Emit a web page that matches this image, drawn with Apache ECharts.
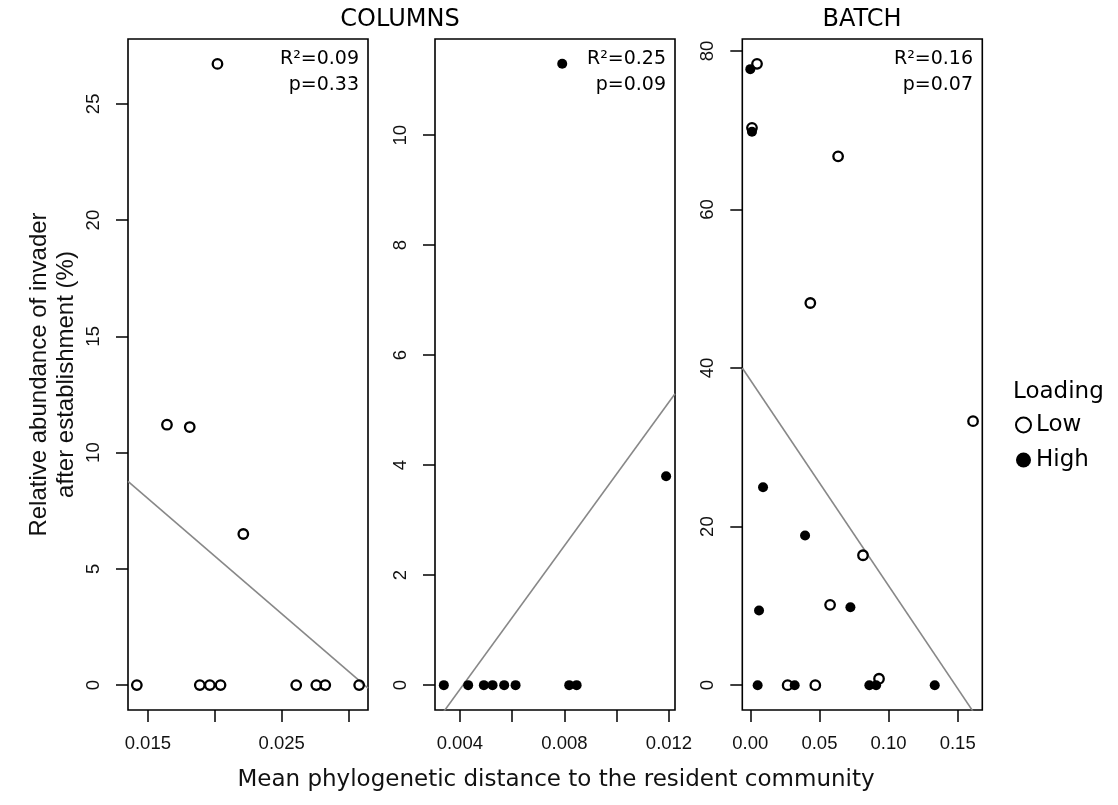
<!DOCTYPE html>
<html>
<head>
<meta charset="utf-8">
<script src="https://cdn.jsdelivr.net/npm/echarts@6/dist/echarts.min.js"></script>
<style>
html, body { margin: 0; padding: 0; background: #fff; }
#main { width: 1118px; height: 805px; }
</style>
</head>
<body>
<div id="main"></div>
<script>
// COLUMNS, left panel (low loading only)
var colLowX = [0.0202, 0.01643, 0.01813, 0.02213, 0.01418, 0.01888, 0.01963, 0.02043, 0.02608, 0.02758, 0.02825, 0.03078];
var colLowY = [26.72, 11.2, 11.1, 6.5, 0, 0, 0, 0, 0, 0, 0, 0];
// COLUMNS, middle panel (high loading only)
var colHighX = [0.007916, 0.01189, 0.003388, 0.004318, 0.004919, 0.005252, 0.005696, 0.006132, 0.008184, 0.008467];
var colHighY = [11.3, 3.8, 0, 0, 0, 0, 0, 0, 0, 0];
// BATCH
var batLowX = [0.00485, 0.0012, 0.0635, 0.0434, 0.1611, 0.0815, 0.0577, 0.027, 0.047, 0.0931];
var batLowY = [78.37, 70.3, 66.7, 48.2, 33.3, 16.39, 10.13, 0, 0, 0.81];
var batHighX = [0, 0.0012, 0.0092, 0.0396, 0.0063, 0.0724, 0.0053, 0.0321, 0.0861, 0.091, 0.1334];
var batHighY = [77.7, 69.8, 24.96, 18.87, 9.42, 9.83, 0, 0, 0, 0, 0];

// fitted lines (end points)
var fit1 = [[0.01352, 8.76], [0.03144, -0.13]];
var fit2 = [[0.00305, -0.70], [0.01223, 5.30]];
var fit3 = [[-0.0058, 40.0], [0.1678, -5.05]];

var stats = [['R²=0.09', 'p=0.33'], ['R²=0.25', 'p=0.09'], ['R²=0.16', 'p=0.07']];

// ticks and labels
var xTicks1 = [0.015, 0.020, 0.025, 0.030], xLabels1 = [0.015, 0.025];
var xTicks2 = [0.004, 0.006, 0.008, 0.010, 0.012], xLabels2 = [0.004, 0.008, 0.012];
var xTicks3 = [0, 0.05, 0.10, 0.15];
var yTicks1 = [0, 5, 10, 15, 20, 25];
var yTicks2 = [0, 2, 4, 6, 8, 10];
var yTicks3 = [0, 20, 40, 60, 80];

var chart = echarts.init(document.getElementById('main'));

function pairs(xs, ys) {
    return xs.map(function (x, i) { return [x, ys[i]]; });
}

var tickFont = 'Liberation Sans, Arial, sans-serif';
var textFont = 'DejaVu Sans, Verdana, sans-serif';

function xAx(idx, min, max, ticks, labels, dec) {
    return {
        type: 'value', gridIndex: idx, min: min, max: max,
        axisLine: { show: false, onZero: false },
        splitLine: { show: false },
        axisTick: { show: true, inside: false, length: 12, customValues: ticks, lineStyle: { color: '#000', width: 1.5 } },
        axisLabel: { customValues: labels, margin: 24, color: '#111', fontSize: 18.5, fontFamily: tickFont,
            formatter: function (v) { return v.toFixed(dec); } }
    };
}

function yAx(idx, min, max, ticks) {
    return {
        type: 'value', gridIndex: idx, min: min, max: max,
        axisLine: { show: false, onZero: false },
        splitLine: { show: false },
        axisTick: { show: true, inside: false, length: 12, customValues: ticks, lineStyle: { color: '#000', width: 1.5 } },
        axisLabel: { customValues: ticks, margin: 25, rotate: 90, color: '#111', fontSize: 18.5, fontFamily: tickFont }
    };
}

var lowStyle = { color: 'transparent', borderColor: '#000', borderWidth: 2.3, opacity: 1 };
var highStyle = { color: '#000', opacity: 1 };

function fitSeries(idx, d) {
    return {
        name: 'fit', type: 'line', xAxisIndex: idx, yAxisIndex: idx, data: d,
        showSymbol: false, silent: true, clip: true,
        lineStyle: { color: '#888', width: 1.6 }, z: 1
    };
}

var gridLefts = [128, 435, 742.3];
var panelRight = [359, 666, 973];

var option = {
    backgroundColor: '#fff',
    animation: false,
    title: [
        { text: 'COLUMNS', left: 400, top: 8, textAlign: 'center', padding: 0,
          textStyle: { fontFamily: textFont, fontWeight: 'normal', fontSize: 24, color: '#000' } },
        { text: 'BATCH', left: 862, top: 8, textAlign: 'center', padding: 0,
          textStyle: { fontFamily: textFont, fontWeight: 'normal', fontSize: 24, color: '#000' } },
        { text: 'Mean phylogenetic distance to the resident community', left: 556, top: 769, textAlign: 'center', padding: 0,
          textStyle: { fontFamily: textFont, fontWeight: 'normal', fontSize: 23, color: '#111' } },
        { text: 'Loading', left: 1013, top: 381, padding: 0,
          textStyle: { fontFamily: textFont, fontWeight: 'normal', fontSize: 23, color: '#000' } }
    ],
    legend: {
        orient: 'vertical', left: 1015, top: 412, itemWidth: 15, itemHeight: 15, itemGap: 9, padding: 0,
        textStyle: { fontFamily: textFont, fontSize: 23, color: '#000', lineHeight: 26 },
        data: [
            { name: 'Low', icon: 'circle', itemStyle: { color: 'transparent', borderColor: '#000', borderWidth: 2, opacity: 1 } },
            { name: 'High', icon: 'circle', itemStyle: { color: '#000', opacity: 1 } }
        ]
    },
    grid: gridLefts.map(function (l) {
        return { left: l, top: 39, width: 240, height: 671, show: true, borderColor: '#000', borderWidth: 1.6, backgroundColor: 'transparent' };
    }),
    xAxis: [
        xAx(0, 0.01352, 0.03144, xTicks1, xLabels1, 3),
        xAx(1, 0.00305, 0.01223, xTicks2, xLabels2, 3),
        xAx(2, -0.0058, 0.1678, xTicks3, xTicks3, 2)
    ],
    yAxis: [
        Object.assign(yAx(0, -1.07, 27.79, yTicks1), {
            name: 'Relative abundance of invader\nafter establishment (%)',
            nameLocation: 'middle', nameRotate: 90, nameGap: 48,
            nameTextStyle: { fontFamily: tickFont, fontSize: 24, lineHeight: 27, color: '#111', align: 'center' }
        }),
        yAx(1, -0.452, 11.75, yTicks2),
        yAx(2, -3.13, 81.5, yTicks3)
    ],
    graphic: stats.map(function (s, i) {
        return {
            type: 'text', x: panelRight[i], y: 46,
            style: { text: s.join('\n'), align: 'right', verticalAlign: 'top', lineHeight: 26,
                font: '19px ' + textFont, fill: '#000' }
        };
    }),
    series: [
        fitSeries(0, fit1),
        fitSeries(1, fit2),
        fitSeries(2, fit3),
        { name: 'Low', type: 'scatter', xAxisIndex: 0, yAxisIndex: 0, data: pairs(colLowX, colLowY),
          symbol: 'circle', symbolSize: 9.5, itemStyle: lowStyle, z: 3 },
        { name: 'High', type: 'scatter', xAxisIndex: 1, yAxisIndex: 1, data: pairs(colHighX, colHighY),
          symbol: 'circle', symbolSize: 10, itemStyle: highStyle, z: 3 },
        { name: 'High', type: 'scatter', xAxisIndex: 2, yAxisIndex: 2, data: pairs(batHighX, batHighY),
          symbol: 'circle', symbolSize: 10, itemStyle: highStyle, z: 3 },
        { name: 'Low', type: 'scatter', xAxisIndex: 2, yAxisIndex: 2, data: pairs(batLowX, batLowY),
          symbol: 'circle', symbolSize: 9.5, itemStyle: lowStyle, z: 4 }
    ]
};

chart.setOption(option);
</script>
</body>
</html>
